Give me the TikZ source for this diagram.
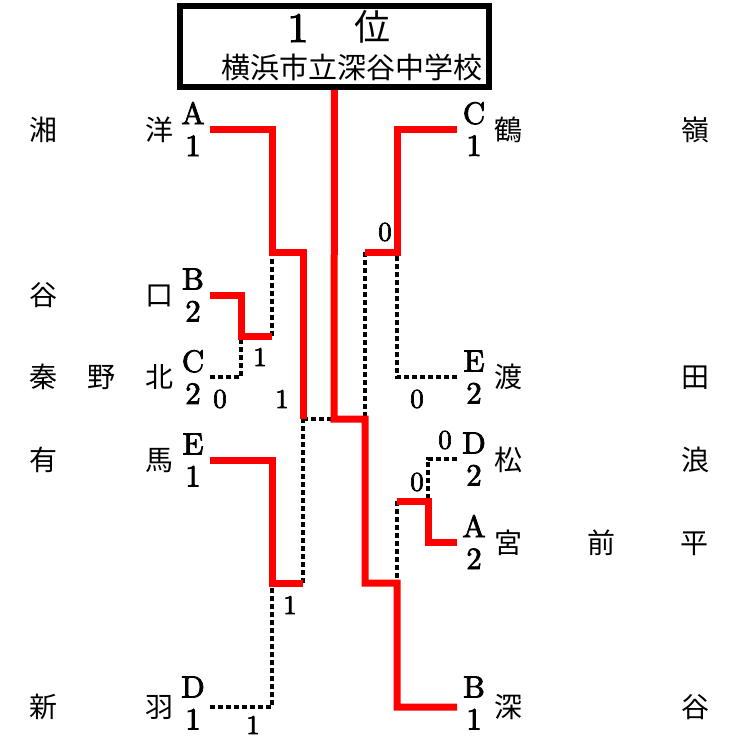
\documentclass[tikz,border=0pt]{standalone}
\usepackage{fontspec}
\newfontfamily\jp{Noto Sans CJK JP}
\newfontfamily\lmd{lmroman10-regular.otf}[BoldFont=lmroman10-regular.otf, BoldFeatures={FakeBold=2.5}]
\begin{document}
\begin{tikzpicture}[x=1pt,y=-1pt,
  win/.style={red, line width=7pt},
  lose/.style={black, line width=3.2pt, dash pattern=on 5pt off 3pt},
  letter/.style={inner sep=0pt, minimum width=34pt, align=center, font=\lmd\bfseries\fontsize{31}{32}\selectfont},
  lname/.style={inner sep=0pt, text width=145pt, font=\jp\fontsize{28}{30}\selectfont},
  rname/.style={inner sep=0pt, text width=215pt, font=\jp\fontsize{28}{30}\selectfont},
  score/.style={inner sep=0pt, font=\lmd\bfseries\fontsize{27}{27}\selectfont}]
\useasboundingbox (0,0) rectangle (731,737);

% title box
\node[inner sep=0pt, minimum width=309pt, minimum height=81pt] (title) at (334.5,46.5) {};
\node[inner sep=0pt, font=\lmd\bfseries\fontsize{42}{42}\selectfont] (t1) at (298,28) {1};
\node[inner sep=0pt, font=\jp\fontsize{36}{36}\selectfont] (t2) at (372,27) {位};
\node[inner sep=0pt, font=\jp\fontsize{29}{29}\selectfont] (school) at (352,67) {横浜市立深谷中学校};

% left teams
\node[lname] (nA) at (101.5,130) {湘\hfill 洋};
\node[lname] (nB) at (101.5,295) {谷\hfill 口};
\node[lname] (nC) at (101.5,377) {秦\hfill 野\hfill 北};
\node[lname] (nE) at (101.5,460) {有\hfill 馬};
\node[lname] (nD) at (101.5,707) {新\hfill 羽};
\node[letter] (lA) at (193,129) {A\\1};
\node[letter] (lB) at (193,295) {B\\2};
\node[letter] (lC) at (193,377) {C\\2};
\node[letter] (lE) at (193,460) {E\\1};
\node[letter] (lD) at (193,703) {D\\1};

% right teams
\node[rname] (mC) at (601.5,130) {鶴\hfill 嶺};
\node[rname] (mE) at (601.5,377) {渡\hfill 田};
\node[rname] (mD) at (601.5,460) {松\hfill 浪};
\node[rname] (mA) at (601.5,543) {宮\hfill 前\hfill 平};
\node[rname] (mB) at (601.5,707) {深\hfill 谷};
\node[letter] (rC) at (474,129) {C\\1};
\node[letter] (rE) at (474,377) {E\\2};
\node[letter] (rD) at (474,459) {D\\2};
\node[letter] (rA) at (474,542) {A\\2};
\node[letter] (rB) at (474,703) {B\\1};

% junctions
\coordinate (L1) at (241,336);
\coordinate (L1e) at (272,336);
\coordinate (L2t) at (272,252);
\coordinate (L2te) at (303,252);
\coordinate (L3) at (303,419);
\coordinate (L2b) at (272,583);
\coordinate (L2be) at (303,583);
\coordinate (C0) at (334,419);
\coordinate (R3) at (365,419);
\coordinate (R3b) at (365,583);
\coordinate (R2t) at (397,252);
\coordinate (R2te) at (365,252);
\coordinate (R2b) at (397,583);
\coordinate (R1) at (428,501);
\coordinate (R1e) at (397,501);
\coordinate (Dend) at (210,707);
\coordinate (Bend) at (457,707);

% losing lines
\draw[lose] (lC.east) -| (L1);
\draw[lose] (L1e) -- (L2t);
\draw[lose] (L3) -- (C0);
\draw[lose] (L2be) -- (L3);
\draw[lose] (Dend) -| (L2b);
\draw[lose] (R2te) -- (R3);
\draw[lose] (rE.west) -| (R2t);
\draw[lose] (rD.west) -| (R1);
\draw[lose] (R1e) -- (R2b);

% winning lines
\draw[win] (lB.east) -| (L1) -- (L1e);
\draw[win] (lA.east) -| (L2t) -- (L2te) -- (L3);
\draw[win] (lE.east) -| (L2b) -- (L2be);
\draw[win] (title.south) -- (C0) -- (R3) -- (R3b) -- (R2b) |- (Bend);
\draw[win] (rC.west) -| (R2t) -- (R2te);
\draw[win] (rA.west) -| (R1) -- (R1e);

\draw[line width=6pt] (title.north west) rectangle (title.south east);

% scores
\node[score] (s1) at (385,232) {0};
\node[score] (s2) at (260,357) {1};
\node[score] (s3) at (220,399) {0};
\node[score] (s4) at (282,399) {1};
\node[score] (s5) at (417,399) {0};
\node[score] (s6) at (445,440) {0};
\node[score] (s7) at (417,482) {0};
\node[score] (s8) at (290,605) {1};
\node[score] (s9) at (253,725) {1};
\end{tikzpicture}
\end{document}
